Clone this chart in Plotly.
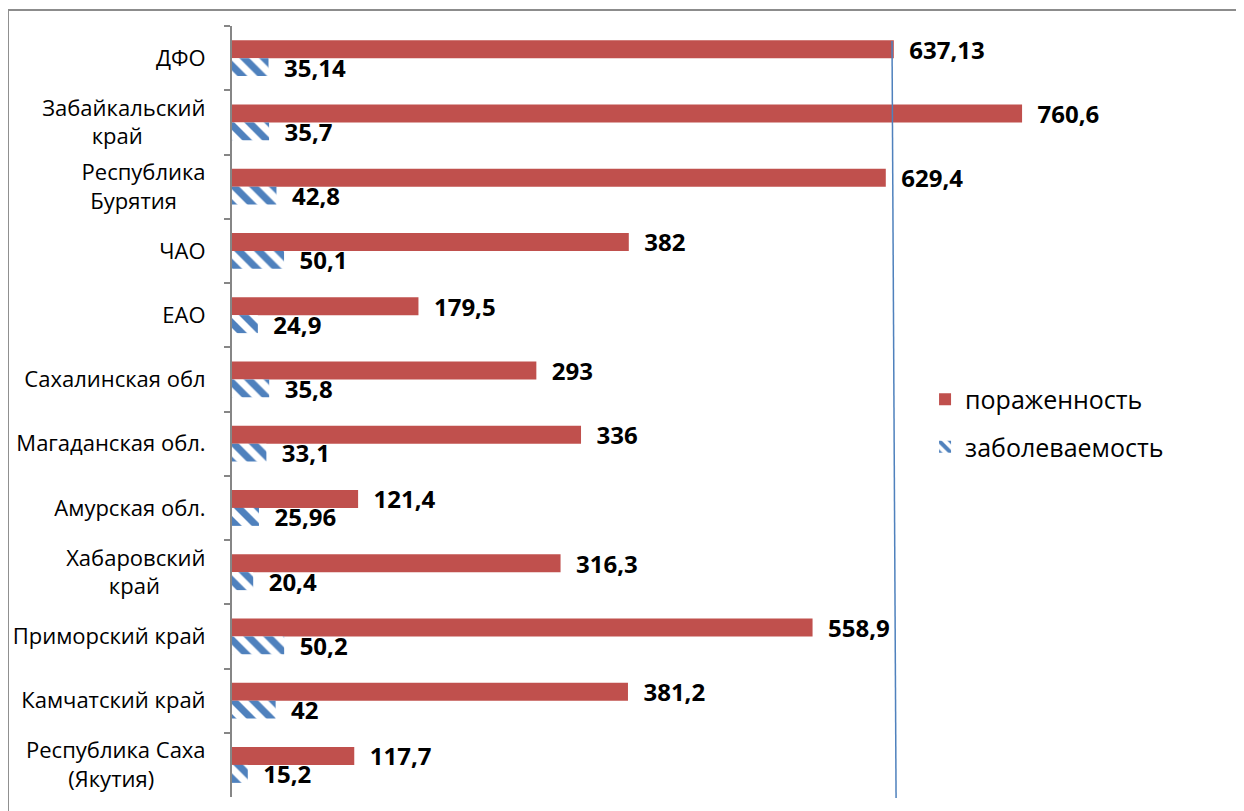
import plotly.graph_objects as go

NB = "\u00a0"
categories = ["ДФО",
              "Забайкальский<br>край" + NB * 11,
              "Республика<br>Бурятия" + NB * 5,
              "ЧАО", "ЕАО",
              "Сахалинская обл", "Магаданская обл.", "Амурская обл.",
              "Хабаровский<br>край" + NB * 8,
              "Приморский край", "Камчатский край",
              "Республика Саха<br>(Якутия)" + NB * 9]
porazhennost = [637.13, 760.6, 629.4, 382, 179.5, 293, 336, 121.4, 316.3, 558.9, 381.2, 117.7]
zabolevaemost = [35.14, 35.7, 42.8, 50.1, 24.9, 35.8, 33.1, 25.96, 20.4, 50.2, 42, 15.2]
dfo_line_x = [635.4, 639.3]

def fmt(v):
    s = ("%g" % v).replace(".", ",")
    return NB * 2 + s

RED = "#C0504D"
BLUE = "#4F81BD"
FONT = "Open Sans"

fig = go.Figure()
fig.add_trace(go.Bar(
    y=categories, x=porazhennost, orientation="h", name="пораженность",
    marker=dict(color=RED, line=dict(width=0)),
    text=[fmt(v) for v in porazhennost], textposition="outside",
    textfont=dict(family=FONT, size=24, color="black", weight="bold"),
    constraintext="none", cliponaxis=False, legendgroup="a",
))
fig.add_trace(go.Bar(
    y=categories, x=zabolevaemost, orientation="h", name="заболеваемость",
    marker=dict(color="white", line=dict(width=0),
                pattern=dict(shape="\\", fgcolor=BLUE, bgcolor="white", size=14,
                             solidity=0.5, fgopacity=1)),
    text=[fmt(v) for v in zabolevaemost], textposition="outside",
    textfont=dict(family=FONT, size=24, color="black", weight="bold"),
    constraintext="none", cliponaxis=False, legendgroup="b",
))

fig.update_layout(
    width=1244, height=811,
    margin=dict(l=224, r=189, t=18, b=22, autoexpand=False),
    paper_bgcolor="white", plot_bgcolor="white",
    barmode="group", bargap=0.44, bargroupgap=0,
    font=dict(family=FONT, size=22, color="black"),
    showlegend=True,
    legend=dict(x=0.834, y=0.485, xanchor="left", yanchor="middle",
                font=dict(family=FONT, size=25, color="black"),
                tracegroupgap=12, bgcolor="rgba(0,0,0,0)"),
    xaxis=dict(range=[0, 800], visible=False, showgrid=False, zeroline=False,
               automargin=False),
    yaxis=dict(autorange="reversed", showline=True, linecolor="#868686", linewidth=2,
               ticks="outside", tickson="boundaries", ticklen=6, tickcolor="#868686",
               tickwidth=2, showgrid=False, ticklabelstandoff=20, automargin=False,
               tickfont=dict(family=FONT, size=22, color="black")),
    shapes=[
        dict(type="line", xref="x", yref="paper", x0=dfo_line_x[0], x1=dfo_line_x[1],
             y0=0.9805, y1=-0.0013, line=dict(color=BLUE, width=1.5)),
        dict(type="rect", xref="paper", yref="paper", x0=-0.2696, x1=2, y0=-1, y1=1.0208,
             line=dict(color="#8c8c8c", width=2), layer="below"),
    ],
)

fig.write_html("out.html")
